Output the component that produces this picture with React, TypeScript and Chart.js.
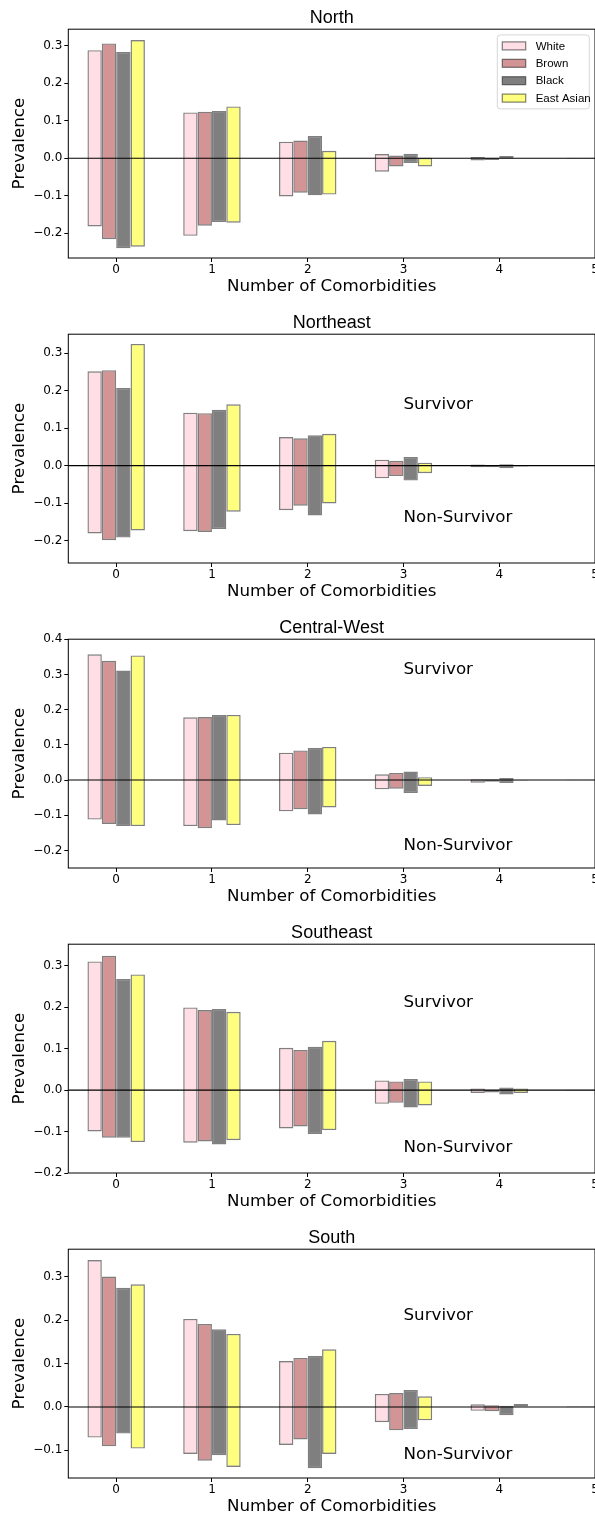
import { useEffect, useRef } from "react";
import { Chart, registerables } from "chart.js";

Chart.register(...registerables);

// Number of comorbidities on the x axis
const comorbidities = [0, 1, 2, 3, 4, 5];
const races = ["White", "Brown", "Black", "East Asian"];
const raceFill = [
  "rgba(255,192,203,0.5)",
  "rgba(165,42,42,0.5)",
  "rgba(0,0,0,0.5)",
  "rgba(255,255,0,0.5)",
];
const barEdge = "rgba(0,0,0,0.5)";

const regionNames = ["North", "Northeast", "Central-West", "Southeast", "South"];

// Prevalence among survivors: one row per race (White, Brown, Black, East Asian),
// one column per number of comorbidities (0..5)
const northSurvivor = [
  [0.288, 0.122, 0.044, 0.011, 0.003, 0.001],
  [0.306, 0.124, 0.047, 0.007, 0.001, 0.001],
  [0.283, 0.126, 0.059, 0.012, 0.006, 0.0],
  [0.315, 0.138, 0.02, 0.001, 0.0, 0.0],
];
const northNonSurvivor = [
  [0.182, 0.207, 0.102, 0.036, 0.006, 0.001],
  [0.216, 0.18, 0.092, 0.022, 0.005, 0.001],
  [0.24, 0.17, 0.099, 0.013, 0.001, 0.0],
  [0.236, 0.172, 0.097, 0.022, 0.0, 0.0],
];

const northeastSurvivor = [
  [0.252, 0.1415, 0.0765, 0.016, 0.003, 0.001],
  [0.255, 0.14, 0.073, 0.013, 0.002, 0.001],
  [0.207, 0.149, 0.081, 0.023, 0.004, 0.001],
  [0.325, 0.164, 0.085, 0.008, 0.001, 0.0],
];
const northeastNonSurvivor = [
  [0.181, 0.175, 0.119, 0.034, 0.004, 0.001],
  [0.199, 0.177, 0.107, 0.028, 0.004, 0.001],
  [0.192, 0.169, 0.133, 0.04, 0.007, 0.001],
  [0.173, 0.123, 0.101, 0.02, 0.002, 0.0],
];

const centralWestSurvivor = [
  [0.357, 0.178, 0.0775, 0.016, 0.002, 0.001],
  [0.3385, 0.179, 0.084, 0.02, 0.002, 0.001],
  [0.311, 0.185, 0.091, 0.024, 0.006, 0.0],
  [0.354, 0.185, 0.094, 0.008, 0.0, 0.0],
];
const centralWestNonSurvivor = [
  [0.1125, 0.131, 0.089, 0.0265, 0.0076, 0.001],
  [0.125, 0.137, 0.083, 0.0246, 0.005, 0.001],
  [0.131, 0.115, 0.098, 0.037, 0.0085, 0.0],
  [0.131, 0.128, 0.078, 0.017, 0.003, 0.0],
];

const southeastSurvivor = [
  [0.3105, 0.1995, 0.102, 0.0233, 0.004, 0.001],
  [0.324, 0.193, 0.097, 0.021, 0.001, 0.001],
  [0.268, 0.1955, 0.1046, 0.0265, 0.0064, 0.001],
  [0.279, 0.189, 0.119, 0.021, 0.004, 0.0],
];
const southeastNonSurvivor = [
  [0.0998, 0.127, 0.0925, 0.033, 0.007, 0.001],
  [0.115, 0.124, 0.0877, 0.0306, 0.0056, 0.001],
  [0.115, 0.131, 0.106, 0.042, 0.0105, 0.001],
  [0.1255, 0.121, 0.0965, 0.037, 0.007, 0.0],
];

const southSurvivor = [
  [0.339, 0.203, 0.106, 0.03, 0.006, 0.001],
  [0.301, 0.1915, 0.113, 0.032, 0.004, 0.001],
  [0.275, 0.179, 0.1177, 0.039, 0.003, 0.001],
  [0.283, 0.1685, 0.133, 0.0246, 0.007, 0.0],
];
const southNonSurvivor = [
  [0.0708, 0.1085, 0.0877, 0.0354, 0.009, 0.001],
  [0.0908, 0.124, 0.075, 0.054, 0.01, 0.001],
  [0.0615, 0.1115, 0.1415, 0.051, 0.019, 0.001],
  [0.096, 0.1385, 0.1085, 0.031, 0.0, 0.0],
];

const survivorByRegion = [northSurvivor, northeastSurvivor, centralWestSurvivor, southeastSurvivor, southSurvivor];
const nonSurvivorByRegion = [
  northNonSurvivor,
  northeastNonSurvivor,
  centralWestNonSurvivor,
  southeastNonSurvivor,
  southNonSurvivor,
];

// Axis limits and ticks per panel
const yMins = [-0.266, -0.26, -0.25, -0.2, -0.164];
const yMaxs = [0.344, 0.351, 0.4, 0.352, 0.364];
const yTickLists = [
  [-0.2, -0.1, 0, 0.1, 0.2, 0.3],
  [-0.2, -0.1, 0, 0.1, 0.2, 0.3],
  [-0.2, -0.1, 0, 0.1, 0.2, 0.3, 0.4],
  [-0.2, -0.1, 0, 0.1, 0.2, 0.3],
  [-0.1, 0, 0.1, 0.2, 0.3],
];
const xTicks = [0, 1, 2, 3, 4, 5];

// "Survivor" / "Non-Survivor" annotation heights (x = 3), none in the first panel
const annotationX = 3;
const survivorTextY = [null, 0.15, 0.3, 0.2, 0.2];
const nonSurvivorTextY = [null, -0.15, -0.2, -0.15, -0.12];

const PANEL_W = 640;
const PANEL_H = 305;

const fmtY = (v: number) => (v < 0 ? "\u2212" : "") + Math.abs(v).toFixed(1);

function makeDecor(idx: number) {
  return {
    id: "panelDecor",
    afterDatasetsDraw(chart: any) {
      const { ctx, chartArea: a, scales } = chart;
      const x = scales.x;
      const y = scales.y;
      ctx.save();
      // horizontal line at zero
      const y0 = y.getPixelForValue(0);
      ctx.strokeStyle = "#000";
      ctx.lineWidth = 1.1;
      ctx.beginPath();
      ctx.moveTo(a.left, y0);
      ctx.lineTo(a.right, y0);
      ctx.stroke();
      // axes frame
      ctx.lineWidth = 1;
      ctx.strokeRect(a.left, a.top, a.right - a.left, a.bottom - a.top);
      // annotations
      const sy = survivorTextY[idx];
      const ny = nonSurvivorTextY[idx];
      ctx.fillStyle = "#000";
      ctx.font = '16.7px "DejaVu Sans"';
      ctx.textAlign = "left";
      ctx.textBaseline = "alphabetic";
      if (sy !== null) ctx.fillText("Survivor", x.getPixelForValue(annotationX), y.getPixelForValue(sy));
      if (ny !== null) ctx.fillText("Non-Survivor", x.getPixelForValue(annotationX), y.getPixelForValue(ny));
      ctx.restore();
    },
    afterDraw(chart: any) {
      if (idx !== 0) return;
      const { ctx, chartArea: a } = chart;
      ctx.save();
      const boxW = 92;
      const boxH = 74;
      const bx = a.right - 5.7 - boxW;
      const by = a.top + 5.7;
      const r = 3;
      ctx.beginPath();
      ctx.moveTo(bx + r, by);
      ctx.lineTo(bx + boxW - r, by);
      ctx.arcTo(bx + boxW, by, bx + boxW, by + r, r);
      ctx.lineTo(bx + boxW, by + boxH - r);
      ctx.arcTo(bx + boxW, by + boxH, bx + boxW - r, by + boxH, r);
      ctx.lineTo(bx + r, by + boxH);
      ctx.arcTo(bx, by + boxH, bx, by + boxH - r, r);
      ctx.lineTo(bx, by + r);
      ctx.arcTo(bx, by, bx + r, by, r);
      ctx.closePath();
      ctx.fillStyle = "rgba(255,255,255,0.8)";
      ctx.fill();
      ctx.strokeStyle = "#d6d6d6";
      ctx.lineWidth = 1;
      ctx.stroke();
      ctx.font = '11.5px "Liberation Sans"';
      ctx.textAlign = "left";
      ctx.textBaseline = "middle";
      races.forEach((name, i) => {
        const cy = by + 11 + i * 17.4;
        ctx.fillStyle = raceFill[i];
        ctx.fillRect(bx + 5, cy - 4, 23.4, 8);
        ctx.strokeStyle = barEdge;
        ctx.lineWidth = 1.2;
        ctx.strokeRect(bx + 5, cy - 4, 23.4, 8);
        ctx.fillStyle = "#000";
        ctx.fillText(name, bx + 38.4, cy + 0.5);
      });
      ctx.restore();
    },
  };
}

function Panel({ idx }: { idx: number }) {
  const ref = useRef<HTMLCanvasElement | null>(null);

  useEffect(() => {
    if (!ref.current) return;
    const surv = survivorByRegion[idx];
    const non = nonSurvivorByRegion[idx];
    const datasets = races.map((race, r) => ({
      label: race,
      data: comorbidities.map((c, j) => ({ x: c, y: [-non[r][j], surv[r][j]] })),
      backgroundColor: raceFill[r],
      borderColor: barEdge,
      borderWidth: 1.4,
      borderSkipped: false as const,
      categoryPercentage: 0.6,
      barPercentage: 1.0,
    }));

    const chart = new Chart(ref.current, {
      type: "bar",
      data: { datasets },
      plugins: [makeDecor(idx)],
      options: {
        animation: false,
        responsive: false,
        devicePixelRatio: 1,
        layout: { padding: { left: 0, right: PANEL_W - 595, top: 0, bottom: 0 } },
        plugins: {
          legend: { display: false },
          tooltip: { enabled: false },
          title: {
            display: true,
            text: regionNames[idx],
            color: "#000",
            fullSize: false,
            font: { family: "Liberation Sans", size: 18, weight: "normal", lineHeight: 1.2 },
            padding: { top: 7.2, bottom: 0.4 },
          },
        },
        scales: {
          x: {
            type: "linear",
            min: -0.5,
            max: 5,
            offset: false,
            grid: {
              offset: false,
              drawOnChartArea: false,
              drawTicks: true,
              tickLength: 4,
              color: "#000",
            },
            border: { display: false },
            afterBuildTicks: (scale: any) => {
              scale.ticks = xTicks.map((value) => ({ value }));
            },
            afterFit: (scale: any) => {
              scale.height = 47;
            },
            ticks: {
              color: "#000",
              padding: 1,
              maxRotation: 0,
              font: { family: "DejaVu Sans", size: 12 },
              callback: (v: any) => String(v),
            },
            title: {
              display: true,
              text: "Number of Comorbidities",
              color: "#000",
              font: { family: "DejaVu Sans", size: 16.7, lineHeight: 1.2 },
              padding: { top: 0, bottom: 8.3 },
            },
          },
          y: {
            type: "linear",
            min: yMins[idx],
            max: yMaxs[idx],
            grid: {
              drawOnChartArea: false,
              drawTicks: true,
              tickLength: 4,
              color: "#000",
            },
            border: { display: false },
            afterBuildTicks: (scale: any) => {
              scale.ticks = yTickLists[idx].map((value) => ({ value }));
            },
            afterFit: (scale: any) => {
              scale.width = 68.3;
            },
            ticks: {
              color: "#000",
              padding: 2,
              font: { family: "DejaVu Sans", size: 12 },
              callback: (v: any) => fmtY(Number(v)),
            },
            title: {
              display: true,
              text: "Prevalence",
              color: "#000",
              font: { family: "DejaVu Sans", size: 16.7, lineHeight: 1.2 },
              padding: { top: 10, bottom: 0 },
            },
          },
        },
      } as any,
    });
    return () => chart.destroy();
  }, [idx]);

  return (
    <div style={{ position: "absolute", left: 0, top: idx * PANEL_H, width: PANEL_W, height: PANEL_H }}>
      <canvas ref={ref} width={PANEL_W} height={PANEL_H} style={{ display: "block", width: PANEL_W, height: PANEL_H }} />
    </div>
  );
}

export default function App() {
  return (
    <div
      style={{
        position: "absolute",
        left: 0,
        top: 0,
        width: 595,
        height: 1516,
        overflow: "hidden",
        background: "#fff",
      }}
    >
      {regionNames.map((_, i) => (
        <Panel key={i} idx={i} />
      ))}
    </div>
  );
}
